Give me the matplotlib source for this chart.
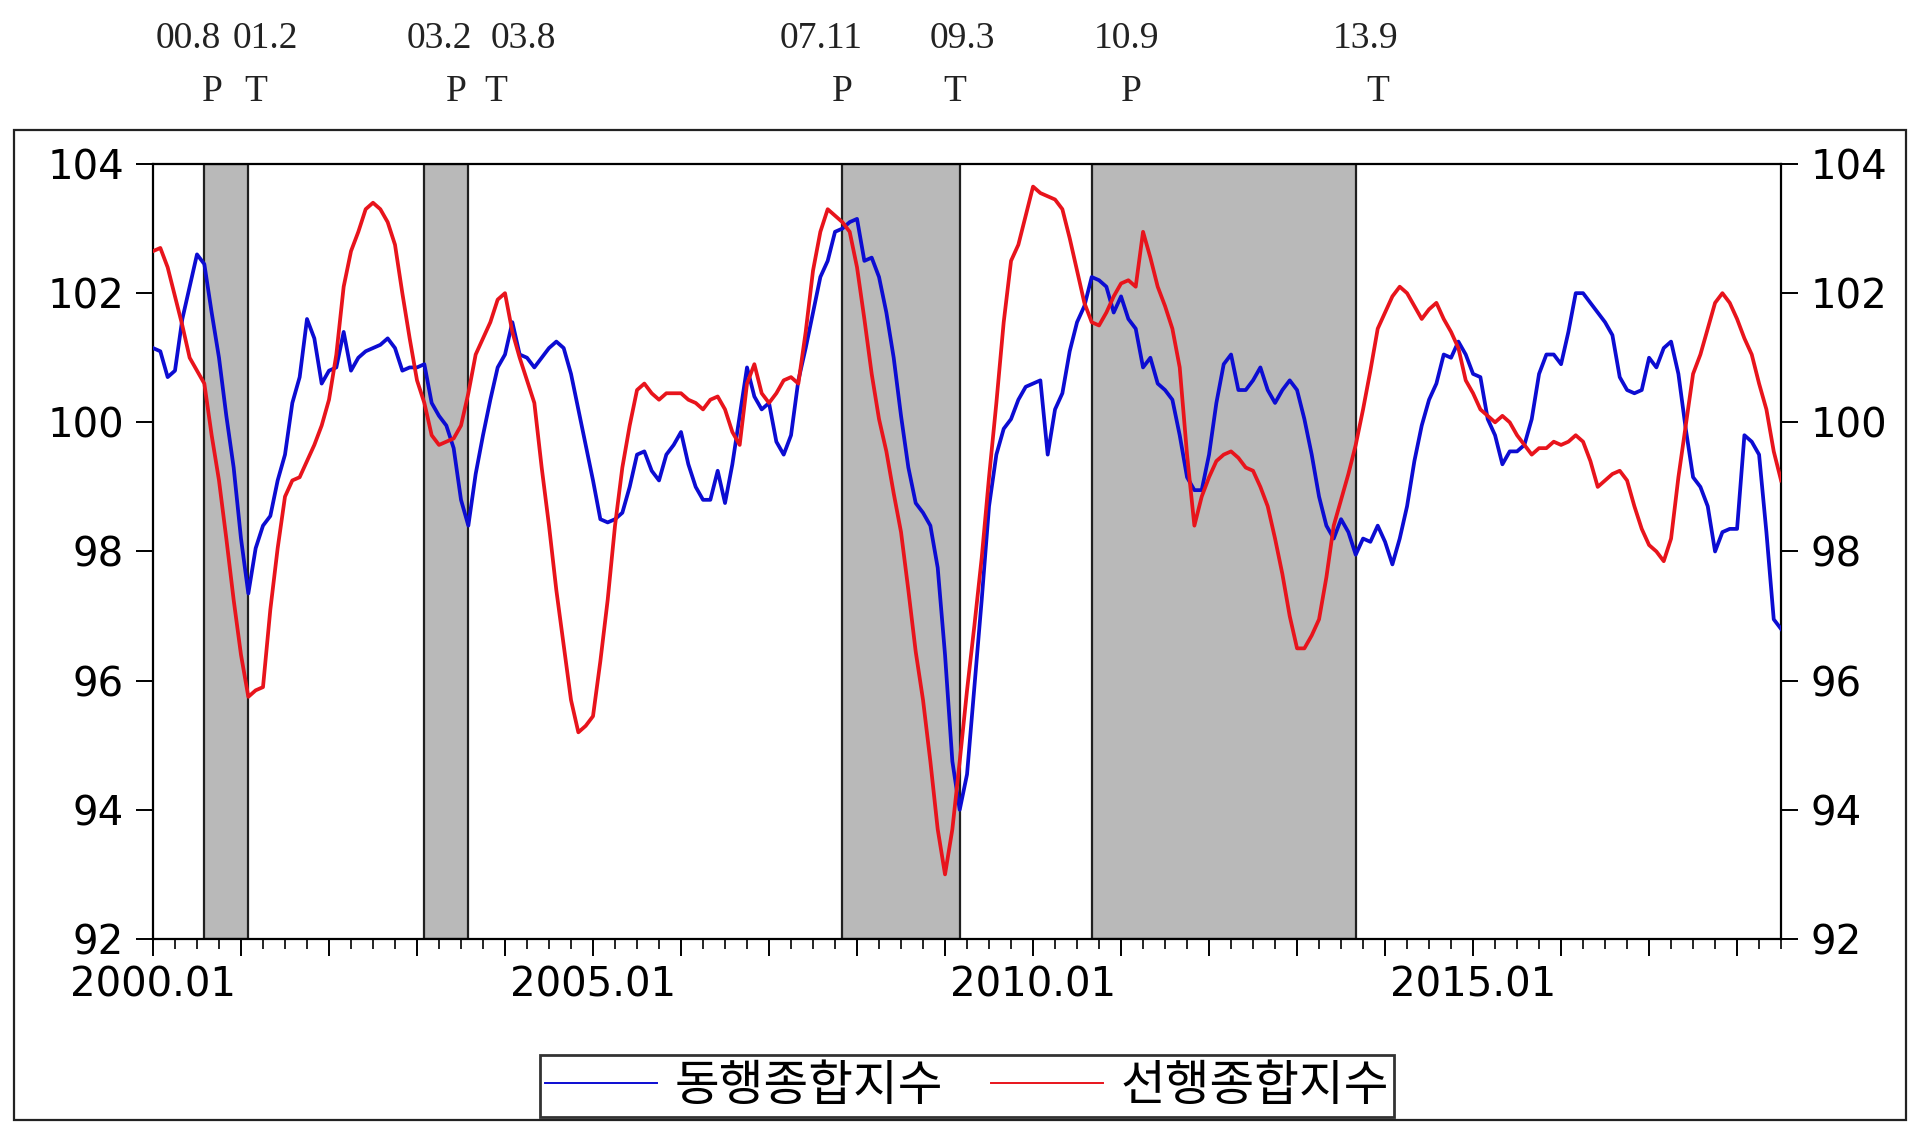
#!/usr/bin/env python3
"""Coincident vs leading composite index with business-cycle shading."""

import matplotlib

matplotlib.use("Agg")
import matplotlib.pyplot as plt
import matplotlib.transforms as mtransforms
from matplotlib.lines import Line2D
from matplotlib.patches import Rectangle

# monthly observations, 2000.01 .. 2018.07
START_YEAR = 2000

coincident = [
    101.15, 101.1, 100.7, 100.8, 101.6, 102.1, 102.6, 102.45, 101.7, 101.0,
    100.1, 99.3, 98.2, 97.35, 98.05, 98.4, 98.55, 99.1, 99.5, 100.3,
    100.7, 101.6, 101.3, 100.6, 100.8, 100.85, 101.4, 100.8, 101.0, 101.1,
    101.15, 101.2, 101.3, 101.15, 100.8, 100.85, 100.85, 100.9, 100.3, 100.1,
    99.95, 99.6, 98.8, 98.4, 99.2, 99.8, 100.35, 100.85, 101.05, 101.55,
    101.05, 101.0, 100.85, 101.0, 101.15, 101.25, 101.15, 100.75, 100.2, 99.65,
    99.1, 98.5, 98.45, 98.5, 98.6, 99.0, 99.5, 99.55, 99.25, 99.1,
    99.5, 99.65, 99.85, 99.35, 99.0, 98.8, 98.8, 99.25, 98.75, 99.35,
    100.1, 100.85, 100.4, 100.2, 100.3, 99.7, 99.5, 99.8, 100.65, 101.15,
    101.7, 102.25, 102.5, 102.95, 103.0, 103.1, 103.15, 102.5, 102.55, 102.25,
    101.7, 101.0, 100.1, 99.3, 98.75, 98.6, 98.4, 97.75, 96.4, 94.75,
    94.0, 94.55, 95.9, 97.25, 98.7, 99.5, 99.9, 100.05, 100.35, 100.55,
    100.6, 100.65, 99.5, 100.2, 100.45, 101.1, 101.55, 101.8, 102.25, 102.2,
    102.1, 101.7, 101.95, 101.6, 101.45, 100.85, 101.0, 100.6, 100.5, 100.35,
    99.8, 99.15, 98.95, 98.95, 99.5, 100.3, 100.9, 101.05, 100.5, 100.5,
    100.65, 100.85, 100.5, 100.3, 100.5, 100.65, 100.5, 100.05, 99.5, 98.85,
    98.4, 98.2, 98.5, 98.3, 97.95, 98.2, 98.15, 98.4, 98.15, 97.8,
    98.2, 98.7, 99.4, 99.95, 100.35, 100.6, 101.05, 101.0, 101.25, 101.05,
    100.75, 100.7, 100.05, 99.8, 99.35, 99.55, 99.55, 99.65, 100.05, 100.75,
    101.05, 101.05, 100.9, 101.4, 102.0, 102.0, 101.85, 101.7, 101.55, 101.35,
    100.7, 100.5, 100.45, 100.5, 101.0, 100.85, 101.15, 101.25, 100.75, 99.9,
    99.15, 99.0, 98.7, 98.0, 98.3, 98.35, 98.35, 99.8, 99.7, 99.5,
    98.3, 96.95, 96.8,
]

leading = [
    102.65, 102.7, 102.4, 101.95, 101.5, 101.0, 100.8, 100.6, 99.8, 99.1,
    98.2, 97.25, 96.4, 95.75, 95.85, 95.9, 97.1, 98.05, 98.85, 99.1,
    99.15, 99.4, 99.65, 99.95, 100.35, 101.05, 102.1, 102.65, 102.95, 103.3,
    103.4, 103.3, 103.1, 102.75, 102.0, 101.3, 100.65, 100.3, 99.8, 99.65,
    99.7, 99.75, 99.95, 100.45, 101.05, 101.3, 101.55, 101.9, 102.0, 101.4,
    101.0, 100.65, 100.3, 99.3, 98.4, 97.4, 96.55, 95.7, 95.2, 95.3,
    95.45, 96.3, 97.25, 98.4, 99.3, 99.95, 100.5, 100.6, 100.45, 100.35,
    100.45, 100.45, 100.45, 100.35, 100.3, 100.2, 100.35, 100.4, 100.2, 99.85,
    99.65, 100.6, 100.9, 100.45, 100.3, 100.45, 100.65, 100.7, 100.6, 101.4,
    102.35, 102.95, 103.3, 103.2, 103.1, 102.95, 102.4, 101.6, 100.75, 100.05,
    99.55, 98.9, 98.3, 97.4, 96.45, 95.7, 94.75, 93.7, 93.0, 93.7,
    94.75, 95.85, 96.85, 97.9, 99.15, 100.3, 101.55, 102.5, 102.75, 103.2,
    103.65, 103.55, 103.5, 103.45, 103.3, 102.85, 102.35, 101.85, 101.55, 101.5,
    101.7, 101.95, 102.15, 102.2, 102.1, 102.95, 102.55, 102.1, 101.8, 101.45,
    100.85, 99.5, 98.4, 98.85, 99.15, 99.4, 99.5, 99.55, 99.45, 99.3,
    99.25, 99.0, 98.7, 98.2, 97.65, 97.0, 96.5, 96.5, 96.7, 96.95,
    97.6, 98.4, 98.8, 99.2, 99.65, 100.2, 100.8, 101.45, 101.7, 101.95,
    102.1, 102.0, 101.8, 101.6, 101.75, 101.85, 101.6, 101.4, 101.15, 100.65,
    100.45, 100.2, 100.1, 100.0, 100.1, 100.0, 99.8, 99.65, 99.5, 99.6,
    99.6, 99.7, 99.65, 99.7, 99.8, 99.7, 99.4, 99.0, 99.1, 99.2,
    99.25, 99.1, 98.7, 98.35, 98.1, 98.0, 97.85, 98.2, 99.15, 99.95,
    100.75, 101.05, 101.45, 101.85, 102.0, 101.85, 101.6, 101.3, 101.05, 100.6,
    100.2, 99.55, 99.1,
]

series_names = ["동행종합지수", "선행종합지수"]

# reference cycle: peak / trough dates (year, month)
peaks = [(2000, 8), (2003, 2), (2007, 11), (2010, 9)]
troughs = [(2001, 2), (2003, 8), (2009, 3), (2013, 9)]
peak_labels = ["00.8", "03.2", "07.11", "10.9"]
trough_labels = ["01.2", "03.8", "09.3", "13.9"]

BLUE = "#0c0cd2"
RED = "#e8141c"
SHADE = "#b9b9b9"


def month_index(year, month):
    return (year - START_YEAR) * 12 + (month - 1)


def main():
    plt.rcParams["font.family"] = ["DejaVu Sans"]
    fig = plt.figure(figsize=(19.1, 11.24), dpi=100)
    ax = fig.add_axes([0.0801, 0.1646, 0.8524, 0.6895])

    x = list(range(len(coincident)))
    last = len(coincident) - 1

    for (py, pm), (ty, tm) in zip(peaks, troughs):
        ax.axvspan(month_index(py, pm), month_index(ty, tm), facecolor=SHADE,
                   edgecolor="#202020", linewidth=1.6, zorder=1)

    ax.plot(x, coincident, color=BLUE, lw=2.7, zorder=3)
    ax.plot(x, leading, color=RED, lw=2.7, zorder=4)

    ax.set_xlim(0, last)
    ax.set_ylim(92, 104)
    ax.set_yticks(range(92, 105, 2))

    majors = list(range(0, last + 1, 12))
    ax.set_xticks(majors)
    ax.set_xticklabels(
        [f"{START_YEAR + m // 12}.01" if m % 60 == 0 else "" for m in majors])
    ax.set_xticks(range(0, last + 1, 3), minor=True)

    ax.tick_params(axis="x", which="major", direction="out", length=12,
                   width=1.4, labelsize=29, pad=7)
    ax.tick_params(axis="x", which="minor", direction="out", length=7,
                   width=1.2)
    ax.tick_params(axis="y", which="major", direction="out", length=12,
                   width=1.4, labelsize=29, pad=9, left=True, right=True,
                   labelleft=True, labelright=True)
    for side in ax.spines.values():
        side.set_linewidth(1.6)

    # peak / trough annotations above the frame
    trans = mtransforms.blended_transform_factory(ax.transData, fig.transFigure)
    label_x = [4.8, 39.0, 91.1, 132.8]
    letter_x = [8.1, 41.4, 94.0, 133.4]
    tlabel_x = [15.3, 50.5, 110.4, 165.4]
    tletter_x = [14.0, 46.8, 109.3, 167.0]
    serif = dict(family="Liberation Serif", fontsize=27, color="#222222",
                 ha="center", va="center", transform=trans)
    for i in range(len(peaks)):
        ax.text(label_x[i], 0.9653, peak_labels[i], **serif)
        ax.text(letter_x[i], 0.9181, "P", **serif)
        ax.text(tlabel_x[i], 0.9653, trough_labels[i], **serif)
        ax.text(tletter_x[i], 0.9181, "T", **serif)

    # outer frame
    fig.add_artist(Rectangle((0.0073, 0.0036), 0.9906, 0.8808,
                             transform=fig.transFigure, fill=False,
                             edgecolor="#222222", linewidth=1.6))

    handles = [Line2D([], [], color=BLUE, lw=1.4),
               Line2D([], [], color=RED, lw=1.4)]
    leg = fig.legend(handles, series_names, loc="center",
                     bbox_to_anchor=(0.5063, 0.0338), ncol=2,
                     prop={"family": ["Noto Sans CJK KR", "DejaVu Sans"],
                           "size": 35},
                     frameon=True, fancybox=False, edgecolor="black",
                     handlelength=2.3, handletextpad=0.35, columnspacing=1.0,
                     borderpad=0.12, borderaxespad=0)
    leg.get_frame().set_linewidth(2.0)

    fig.savefig("out.png", dpi=100, facecolor="white")


if __name__ == "__main__":
    main()
